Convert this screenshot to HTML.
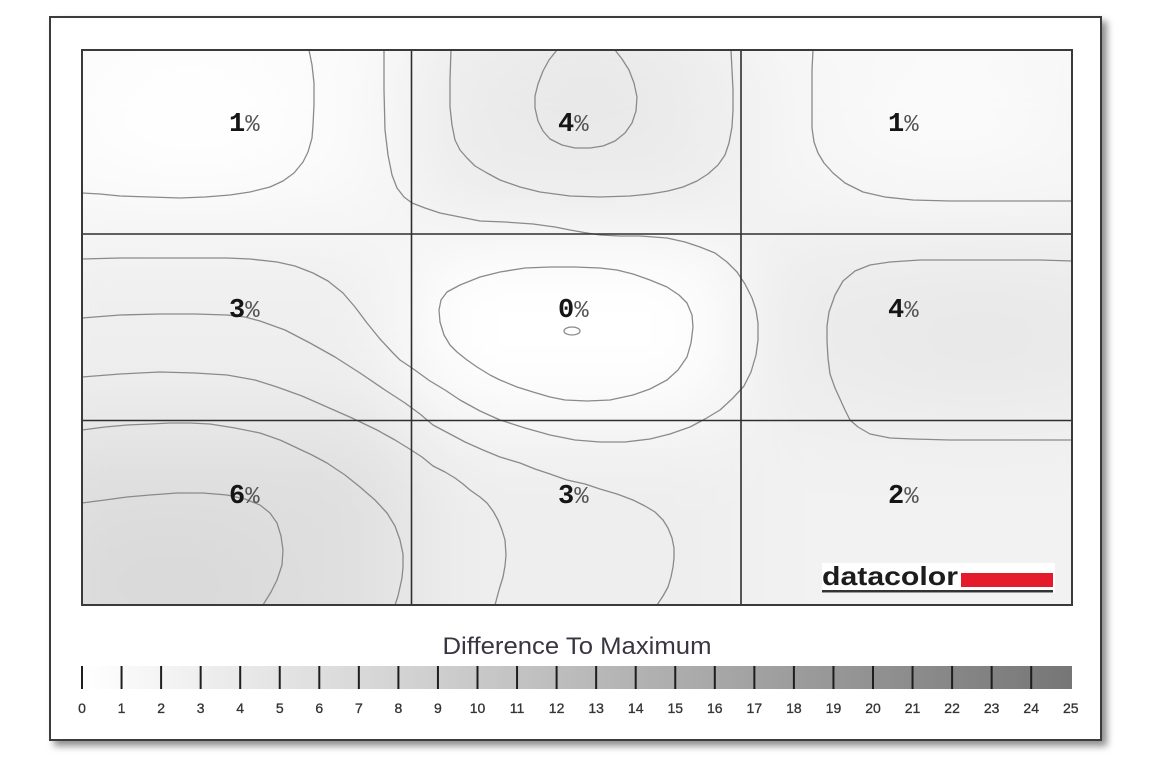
<!DOCTYPE html>
<html><head><meta charset="utf-8">
<style>
html,body{margin:0;padding:0;background:#fff;width:1171px;height:772px;overflow:hidden;}
body{position:relative;}
#frame{position:absolute;left:49px;top:16px;width:1053px;height:725px;box-sizing:border-box;border:2px solid #3c3c3c;background:#fff;box-shadow:5px 5px 7px rgba(0,0,0,0.45);}
svg{position:absolute;left:0;top:0;display:block;}
</style></head>
<body>
<div id="frame"></div>
<svg width="1171" height="772" viewBox="0 0 1171 772" xmlns="http://www.w3.org/2000/svg">
<defs>
<clipPath id="pc"><rect x="82" y="50" width="990" height="555"/></clipPath>
<filter id="bl" filterUnits="userSpaceOnUse" x="0" y="0" width="1171" height="772"><feGaussianBlur stdDeviation="45"/></filter>
<linearGradient id="cb" x1="0" y1="0" x2="1" y2="0">
<stop offset="0" stop-color="#ffffff"/><stop offset="1" stop-color="#767676"/>
</linearGradient>
</defs>

<g clip-path="url(#pc)">
<g filter="url(#bl)">
<rect x="0" y="0" width="411" height="234" fill="#fafafa"/>
<rect x="411" y="0" width="330" height="234" fill="#ebebeb"/>
<rect x="741" y="0" width="430" height="234" fill="#f6f6f6"/>
<rect x="0" y="234" width="411" height="186" fill="#efefef"/>
<rect x="411" y="234" width="330" height="186" fill="#ffffff"/>
<rect x="741" y="234" width="430" height="186" fill="#ebebeb"/>
<rect x="0" y="420" width="411" height="352" fill="#dfdfdf"/>
<rect x="411" y="420" width="330" height="352" fill="#eeeeee"/>
<rect x="741" y="420" width="430" height="352" fill="#f2f2f2"/>
<ellipse cx="170" cy="585" rx="120" ry="55" fill="#d8d8d8"/>
<ellipse cx="587" cy="80" rx="55" ry="50" fill="#e6e6e6"/>
<ellipse cx="980" cy="345" rx="110" ry="65" fill="#e8e8e8"/>
<ellipse cx="566" cy="333" rx="120" ry="60" fill="#ffffff"/>
<ellipse cx="190" cy="115" rx="120" ry="65" fill="#ffffff"/>
<ellipse cx="950" cy="110" rx="110" ry="60" fill="#fbfbfb"/>
</g>
</g>

<g fill="none" stroke="#8a8a8a" stroke-width="1.3" stroke-linejoin="round" stroke-linecap="round" clip-path="url(#pc)">
<polyline points="309,50 312,65 314,83 314,105 313,125 312,138 308,152 303,162 294,173 283,181 270,187 250,192 230,195 205,197 180,198 150,197 120,196 100,194 82,193"/>
<polyline points="384,50 384,90 385,130 388,155 392,175 397,188 404,197 412,203 425,208 440,213 460,217 480,221 505,222 533,224 555,227 570,230 587,233 600,235 620,236 640,236 667,238 685,242 700,247 715,253 727,262 737,272 745,284 752,298 756,310 758,323 758,340 756,355 751,372 744,386 733,398 720,410 705,419 690,427 670,434 650,439 625,442 600,442 575,440 550,435 525,428 500,420 480,411 460,400 445,390 430,381 412,368 400,360 393,353 380,339 367,323 355,307 343,293 328,281 313,273 295,266 277,262 250,259 227,258 190,258 160,258 120,258 82,259"/>
<polyline points="451,50 450,80 450,107 452,125 455,140 460,150 467,158 475,166 487,173 500,180 520,187 540,192 570,196 600,197 630,196 650,194 668,191 683,187 697,181 708,174 718,165 725,155 729,143 732,127 733,110 733,90 732,70 731,50"/>
<polyline points="557,50 549,60 543,71 538,84 535,96 535,108 538,121 543,131 550,139 562,145 575,148 590,148 603,146 615,141 625,133 632,123 636,111 637,97 634,83 629,70 622,59 615,50"/>
<polygon points="550,267 575,267 600,268 617,270 633,274 650,280 667,287 679,295 687,303 692,315 693,327 691,343 687,357 678,370 667,380 650,389 633,395 610,400 587,401 565,400 550,397 533,392 517,387 500,380 490,375 477,367 467,360 457,352 450,345 444,335 440,322 439,310 441,300 447,292 460,285 480,277 500,272 525,268"/>
<ellipse cx="572" cy="331" rx="8" ry="4"/>
<polyline points="82,318 120,315 160,314 195,314 227,315 245,317 260,321 285,330 310,343 335,357 360,373 385,390 405,403 420,414 433,425 450,434 465,442 483,450 500,457 520,463 535,469 550,474 567,480 585,484 600,489 617,494 633,500 645,506 655,512 663,520 668,528 672,538 674,548 674,558 673,567 671,577 668,587 663,596 657,605"/>
<polyline points="82,377 120,374 160,372 195,373 227,375 255,380 277,387 302,396 327,407 352,418 377,430 395,440 408,448 422,457 433,466 445,472 455,478 463,484 470,490 480,497 487,503 493,511 498,520 502,530 505,540 506,555 505,566 503,577 499,590 495,605"/>
<polyline points="82,430 105,427 127,425 150,424 170,423 190,423 210,424 235,428 260,433 280,440 295,447 312,455 327,463 345,475 360,487 375,500 387,513 395,526 400,540 403,554 403,567 402,578 400,587 398,596 395,605"/>
<polyline points="82,503 105,500 127,497 150,495 177,493 203,493 227,495 245,499 260,505 270,513 277,523 281,536 283,550 282,565 277,580 271,592 263,605"/>
<polyline points="813,50 812,70 812,90 812,110 812,128 814,142 818,153 824,163 833,173 845,183 863,192 885,197 913,200 950,201 1000,201 1040,201 1072,201"/>
<polyline points="1072,261 1040,260 1000,260 960,260 920,260 890,262 870,265 855,271 843,281 835,295 829,312 827,326 827,341 828,358 830,374 835,388 840,399 845,410 850,420 858,427 870,434 890,438 913,439 950,440 1000,440 1040,440 1072,440"/>
</g>

<g stroke="#2f2f2f" stroke-width="1.6" fill="none">
<line x1="411.5" y1="50" x2="411.5" y2="605"/>
<line x1="741" y1="50" x2="741" y2="605"/>
<line x1="82" y1="234" x2="1072" y2="234"/>
<line x1="82" y1="420.5" x2="1072" y2="420.5"/>
</g>
<rect x="82" y="50" width="990" height="555" fill="none" stroke="#3a3a3a" stroke-width="2"/>

<g font-family="'Liberation Mono', 'DejaVu Sans Mono', monospace" font-size="27">
<text x="229" y="131"><tspan font-weight="bold" fill="#151515">1</tspan><tspan fill="#555" font-size="24">%</tspan></text>
<text x="558" y="131"><tspan font-weight="bold" fill="#151515">4</tspan><tspan fill="#555" font-size="24">%</tspan></text>
<text x="888" y="131"><tspan font-weight="bold" fill="#151515">1</tspan><tspan fill="#555" font-size="24">%</tspan></text>
<text x="229" y="317"><tspan font-weight="bold" fill="#151515">3</tspan><tspan fill="#555" font-size="24">%</tspan></text>
<text x="558" y="317"><tspan font-weight="bold" fill="#151515">0</tspan><tspan fill="#555" font-size="24">%</tspan></text>
<text x="888" y="317"><tspan font-weight="bold" fill="#151515">4</tspan><tspan fill="#555" font-size="24">%</tspan></text>
<text x="229" y="503"><tspan font-weight="bold" fill="#151515">6</tspan><tspan fill="#555" font-size="24">%</tspan></text>
<text x="558" y="503"><tspan font-weight="bold" fill="#151515">3</tspan><tspan fill="#555" font-size="24">%</tspan></text>
<text x="888" y="503"><tspan font-weight="bold" fill="#151515">2</tspan><tspan fill="#555" font-size="24">%</tspan></text>
</g>

<rect x="822" y="563" width="233" height="30" fill="#ffffff"/>
<text x="822" y="585" font-family="'Liberation Sans', Arial, sans-serif" font-weight="bold" font-size="26" fill="#1c1c1c" textLength="136" lengthAdjust="spacingAndGlyphs">datacolor</text>
<rect x="961" y="573" width="92" height="14" fill="#e31b2b"/>
<rect x="822" y="590" width="231" height="2.5" fill="#333"/>

<text x="577" y="654" text-anchor="middle" font-family="'Liberation Sans', Arial, sans-serif" font-size="24" fill="#3a3540" textLength="269" lengthAdjust="spacingAndGlyphs">Difference To Maximum</text>

<rect x="82" y="666" width="990" height="23" fill="url(#cb)"/>
<g stroke="#1e1e1e" stroke-width="2">
<line x1="82" y1="666" x2="82" y2="689"/>
<line x1="121.55" y1="666" x2="121.55" y2="689"/>
<line x1="161.1" y1="666" x2="161.1" y2="689"/>
<line x1="200.65" y1="666" x2="200.65" y2="689"/>
<line x1="240.2" y1="666" x2="240.2" y2="689"/>
<line x1="279.75" y1="666" x2="279.75" y2="689"/>
<line x1="319.3" y1="666" x2="319.3" y2="689"/>
<line x1="358.85" y1="666" x2="358.85" y2="689"/>
<line x1="398.4" y1="666" x2="398.4" y2="689"/>
<line x1="437.95" y1="666" x2="437.95" y2="689"/>
<line x1="477.5" y1="666" x2="477.5" y2="689"/>
<line x1="517.05" y1="666" x2="517.05" y2="689"/>
<line x1="556.6" y1="666" x2="556.6" y2="689"/>
<line x1="596.15" y1="666" x2="596.15" y2="689"/>
<line x1="635.7" y1="666" x2="635.7" y2="689"/>
<line x1="675.25" y1="666" x2="675.25" y2="689"/>
<line x1="714.8" y1="666" x2="714.8" y2="689"/>
<line x1="754.35" y1="666" x2="754.35" y2="689"/>
<line x1="793.9" y1="666" x2="793.9" y2="689"/>
<line x1="833.45" y1="666" x2="833.45" y2="689"/>
<line x1="873" y1="666" x2="873" y2="689"/>
<line x1="912.55" y1="666" x2="912.55" y2="689"/>
<line x1="952.1" y1="666" x2="952.1" y2="689"/>
<line x1="991.65" y1="666" x2="991.65" y2="689"/>
<line x1="1031.2" y1="666" x2="1031.2" y2="689"/>
</g>
<g font-family="'Liberation Sans', Arial, sans-serif" font-size="14" fill="#333" text-anchor="middle" stroke="#333" stroke-width="0.3">
<text x="82" y="713">0</text>
<text x="121.55" y="713">1</text>
<text x="161.1" y="713">2</text>
<text x="200.65" y="713">3</text>
<text x="240.2" y="713">4</text>
<text x="279.75" y="713">5</text>
<text x="319.3" y="713">6</text>
<text x="358.85" y="713">7</text>
<text x="398.4" y="713">8</text>
<text x="437.95" y="713">9</text>
<text x="477.5" y="713">10</text>
<text x="517.05" y="713">11</text>
<text x="556.6" y="713">12</text>
<text x="596.15" y="713">13</text>
<text x="635.7" y="713">14</text>
<text x="675.25" y="713">15</text>
<text x="714.8" y="713">16</text>
<text x="754.35" y="713">17</text>
<text x="793.9" y="713">18</text>
<text x="833.45" y="713">19</text>
<text x="873" y="713">20</text>
<text x="912.55" y="713">21</text>
<text x="952.1" y="713">22</text>
<text x="991.65" y="713">23</text>
<text x="1031.2" y="713">24</text>
<text x="1070.75" y="713">25</text>
</g>
</svg>
</body></html>
